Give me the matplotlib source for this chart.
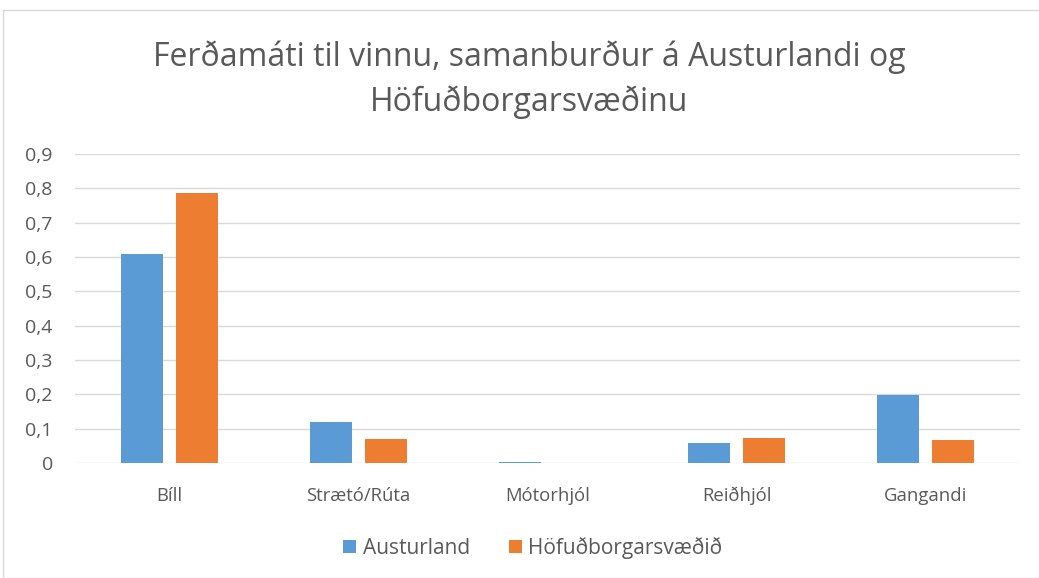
import matplotlib
matplotlib.use("Agg")
import matplotlib.pyplot as plt
import numpy as np
from matplotlib.patches import Rectangle

categories = ["Bíll", "Strætó/Rúta", "Mótorhjól", "Reiðhjól", "Gangandi"]
austurland = [0.61, 0.118, 0.002, 0.059, 0.199]
hofudborg = [0.787, 0.069, 0.0, 0.074, 0.066]
series_names = ["Austurland", "Höfuðborgarsvæðið"]
yticks = [0, 0.1, 0.2, 0.3, 0.4, 0.5, 0.6, 0.7, 0.8, 0.9]
ytick_labels = ["0", "0,1", "0,2", "0,3", "0,4", "0,5", "0,6", "0,7", "0,8", "0,9"]
title = "Ferðamáti til vinnu, samanburður á Austurlandi og\nHöfuðborgarsvæðinu"

blue = "#5b9bd5"
orange = "#ed7d31"
txt = "#595959"
font = "Open Sans"

W, H = 1039, 578
fig = plt.figure(figsize=(W / 100, H / 100), dpi=100)
fig.patches.append(Rectangle((3 / W, 0), 1.2, (H - 10) / H, transform=fig.transFigure,
                             fill=False, edgecolor="#d9d9d9", linewidth=1))

ax = fig.add_axes([75 / W, (H - 463) / H, (1020 - 75) / W, (463 - 154) / H])
x = np.arange(len(categories))
bw = 0.222
off = 0.143
ax.bar(x - off, austurland, bw, color=blue, label=series_names[0], zorder=3)
ax.bar(x + off, hofudborg, bw, color=orange, label=series_names[1], zorder=3)

ax.set_xlim(-0.5, len(categories) - 0.5)
ax.set_ylim(0, 0.9)
ax.set_yticks(yticks)
ax.set_yticklabels(ytick_labels, fontsize=14, color=txt, family=font)
ax.set_xticks(x)
ax.set_xticklabels(categories, fontsize=13.3, color=txt, family=font)
ax.tick_params(axis="both", length=0)
ax.tick_params(axis="y", pad=16)
ax.tick_params(axis="x", pad=17)
ax.grid(axis="y", color="#d9d9d9", linewidth=1, zorder=0)
for s in ax.spines.values():
    s.set_visible(False)

fig.text(529 / W, 1 - 80 / H, title, ha="center", va="center", fontsize=23,
         color=txt, family=font, linespacing=1.45)

leg = fig.legend(loc="center", bbox_to_anchor=(533 / W, 1 - 548 / H), ncol=2, frameon=False,
                 prop={"family": font, "size": 15}, handlelength=0.62, handleheight=0.62,
                 handletextpad=0.3, columnspacing=1.9)
for t in leg.get_texts():
    t.set_color(txt)

fig.savefig("out.png", dpi=100)
